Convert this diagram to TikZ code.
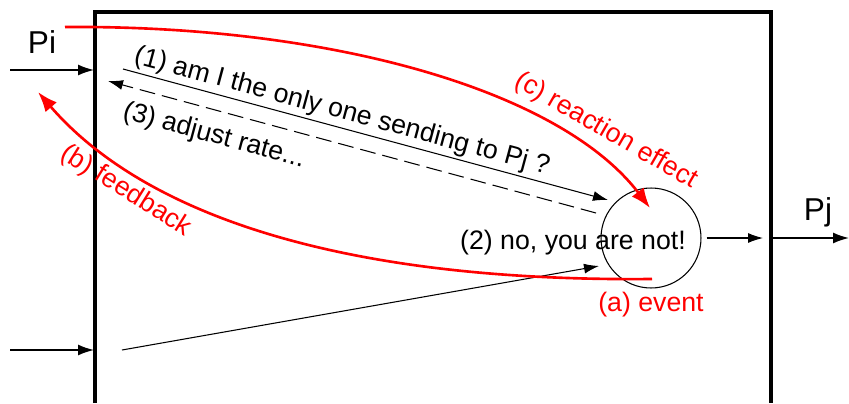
\documentclass[tikz,border=0pt]{standalone}
\usepackage{fontspec}
\setmainfont{Liberation Sans}
\usepackage{tikz}
\usetikzlibrary{arrows.meta, positioning, calc}
\definecolor{sred}{HTML}{FF0000}
\tikzset{
  >=Latex,
  font=\fontsize{15.2}{18}\selectfont,
  frame/.style={line width=2.2pt, draw=black},
  inarr/.style={-{Latex[length=3.2mm,width=2.2mm]}, line width=0.9pt},
  msg/.style={-{Latex[length=3mm,width=2mm]}, line width=0.6pt},
  redarr/.style={-{Latex[length=4mm,width=3mm]}, line width=1.5pt, draw=sred},
  redlab/.style={text=sred, inner sep=1pt},
  lab/.style={inner sep=1pt}
}
\begin{document}
\begin{tikzpicture}[x=0.02cm,y=-0.02cm]
  \useasboundingbox (0,0) rectangle (849,403);
  % the process box
  \draw[frame] (95,403) -- (95,12) -- (771,12) -- (771,403);
  \node[circle, draw, line width=0.6pt, minimum size=2cm, inner sep=0pt] (ev) at (651,238) {};
  % inputs and output
  \coordinate (piin) at (10,70);
  \coordinate (piend) at (94,70);
  \coordinate (qin) at (10,350);
  \coordinate (qend) at (94,350);
  \coordinate (qstart) at (122,350);
  \coordinate (pjout) at (849,238);
  \coordinate (boxr) at (771,238);
  \coordinate (boxrin) at (763,238);
  \node[lab, font=\fontsize{18}{20}\selectfont] (pi) at (42,42) {Pi};
  \node[lab, font=\fontsize{18}{20}\selectfont] (pj) at (818,212) {Pj};
  \draw[inarr] (piin) -- (piend);
  \draw[inarr] (qin) -- (qend);
  \draw[inarr] (boxr) -- (pjout);
  \draw[msg] (ev.east) ++(5,0) coordinate (evout) -- (boxrin);
  % messages
  \coordinate (askfrom) at (123,69);
  \coordinate (askto) at (608,200);
  \coordinate (adjfrom) at (596,213);
  \coordinate (adjto) at (108,81);
  \coordinate (ansto) at (599,266);
  \draw[msg] (askfrom) -- (askto);
  \draw[msg, dash pattern=on 9pt off 4pt] (adjfrom) -- (adjto);
  \draw[msg] (qstart) -- (ansto);
  \node[lab, rotate=-15.1] (ask) at (342,112) {(1) am I the only one sending to Pj ?};
  \node[lab, rotate=-15.1] (adj) at (214,136) {(3) adjust rate...};
  \node[lab] (ans) at (573,243) {(2) no, you are not!};
  % red curves
  \coordinate (cstart) at (65,27);
  \coordinate (cend) at (650,208);
  \coordinate (bstart) at (652,279);
  \coordinate (bend) at (38,92);
  \draw[redarr] (cstart) .. controls (330,25) and (560,90) .. (cend);
  \draw[redarr] (bstart) .. controls (330,282) and (140,210) .. (bend);
  \node[redlab, rotate=-30] (react) at (606,131) {(c) reaction effect};
  \node[redlab, rotate=-32] (fb) at (126,191) {(b) feedback};
  \node[redlab] (evt) at (651,305) {(a) event};
\end{tikzpicture}
\end{document}
